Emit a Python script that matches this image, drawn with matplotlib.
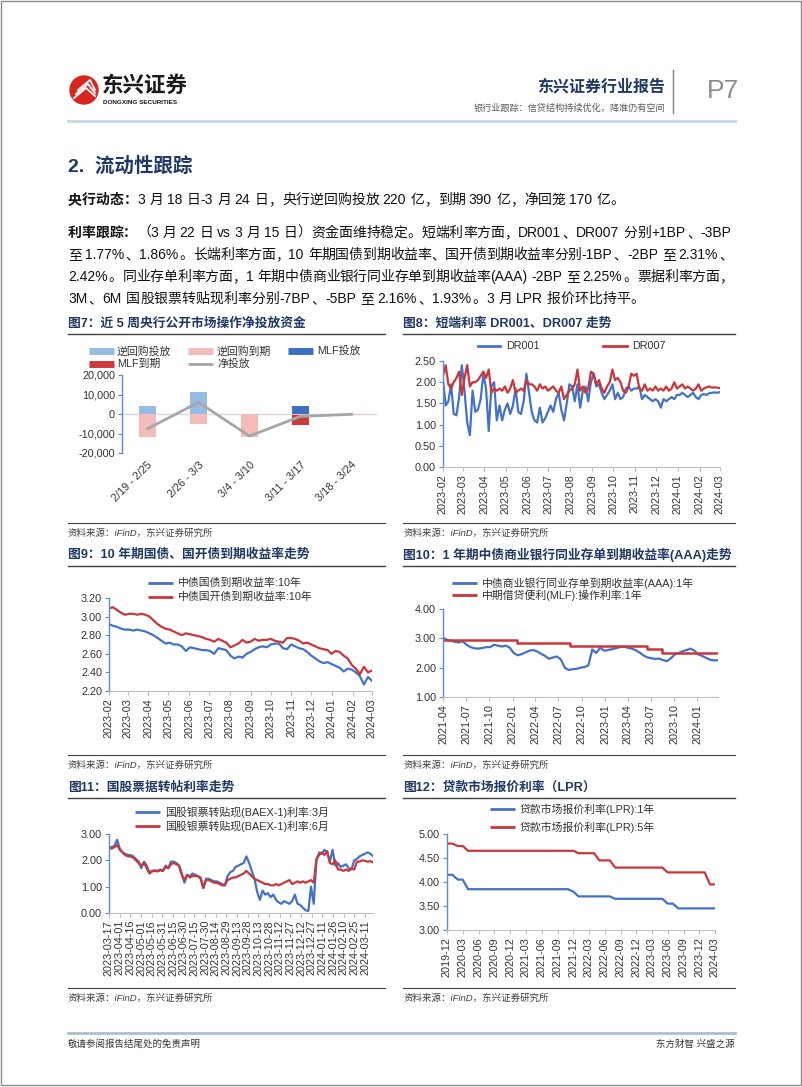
import re
import numpy as np
import pandas as pd
import matplotlib
matplotlib.use('Agg')
import matplotlib.pyplot as plt
from matplotlib.patches import Circle, Rectangle

plt.rcParams['font.family'] = ['Liberation Sans', 'Noto Sans CJK SC', 'DejaVu Sans']
plt.rcParams['axes.unicode_minus'] = False

# ---- data ----
# fig 7: open market operations by week (100 million yuan)
weeks = ['2/19 - 2/25', '2/26 - 3/3', '3/4 - 3/10', '3/11 - 3/17', '3/18 - 3/24']
rr_in = [4300, 11300, 0, 0, 220]
rr_out = [-11900, -5300, -11800, -700, -390]
mlf_in = [0, 0, 0, 3870, 0]
mlf_out = [0, 0, 0, -4810, 0]
net = [-7600, 6000, -11300, -1200, -170]

# fig 8: DR001 / DR007 (2023-02-22 .. 2024-03-22)
dr001 = [2.05, 1.45, 1.55, 1.95, 1.25, 1.22, 1.65, 2.40,
         1.80, 1.05, 0.75, 1.80, 1.30, 1.35, 1.60, 2.20,
         1.85, 0.85, 1.90, 2.00, 1.10, 1.45, 1.10, 1.35,
         1.50, 1.25, 1.45, 1.85, 1.30, 1.25, 1.55, 2.20,
         1.75, 1.30, 1.10, 1.05, 1.40, 1.05, 1.15, 1.30,
         1.45, 1.30, 1.60, 1.75, 1.35, 1.10, 1.50, 1.95,
         1.90, 1.55, 1.95, 1.40, 1.80, 1.90, 1.55, 2.00,
         2.20, 1.90, 1.95, 1.75, 1.60, 1.70, 1.80, 1.95,
         1.60, 1.75, 1.60, 1.65, 1.85, 1.90, 1.80, 1.85,
         1.85, 1.90, 1.60, 1.70, 1.65, 1.60, 1.55, 1.60,
         1.55, 1.40, 1.60, 1.55, 1.60, 1.65, 1.60, 1.70,
         1.70, 1.75, 1.70, 1.65, 1.70, 1.75, 1.65, 1.60,
         1.70, 1.72, 1.70, 1.74, 1.75, 1.76, 1.75, 1.77]
dr007 = [2.15, 2.40, 1.95, 1.85, 2.00, 2.10, 2.25, 1.70,
         2.10, 2.40, 1.90, 2.00, 2.00, 2.05, 2.15, 2.25,
         2.10, 2.30, 1.75, 1.85, 1.80, 1.85, 1.80, 1.90,
         1.75, 1.85, 2.05, 1.75, 1.80, 1.85, 1.80, 2.05,
         1.95, 1.95, 1.90, 1.80, 1.95, 1.85, 1.90, 1.80,
         1.85, 1.90, 1.80, 1.75, 1.90, 1.60, 1.70, 1.80,
         1.85, 1.95, 2.30, 1.80, 1.90, 1.75, 1.85, 2.25,
         2.20, 1.95, 2.05, 1.85, 1.75, 1.90, 2.00, 2.30,
         2.05, 2.10, 2.00, 1.80, 1.75, 1.90, 2.20, 2.15,
         2.20, 1.85, 1.80, 1.95, 1.80, 1.85, 1.80, 1.90,
         1.80, 1.85, 1.80, 1.90, 1.80, 1.85, 2.00, 1.85,
         1.90, 1.95, 1.85, 1.90, 1.85, 1.80, 1.85, 1.95,
         1.80, 1.85, 1.88, 1.90, 1.87, 1.88, 1.87, 1.86]

# fig 9: 10Y CGB / CDB yields
cgb10 = [2.92, 2.90, 2.89, 2.87, 2.86, 2.86, 2.85, 2.86, 2.85, 2.84,
         2.82, 2.80, 2.77, 2.74, 2.71, 2.72, 2.70, 2.70, 2.68, 2.63,
         2.67, 2.66, 2.65, 2.64, 2.64, 2.63, 2.60, 2.66, 2.65, 2.64,
         2.58, 2.55, 2.57, 2.56, 2.60, 2.62, 2.65, 2.67, 2.68, 2.67,
         2.70, 2.71, 2.71, 2.66, 2.65, 2.70, 2.68, 2.66, 2.65, 2.62,
         2.58, 2.55, 2.52, 2.50, 2.51, 2.49, 2.47, 2.45, 2.41, 2.44,
         2.43, 2.40, 2.36, 2.27, 2.35, 2.31]
cdb10 = [3.09, 3.10, 3.07, 3.04, 3.02, 3.03, 3.03, 3.02, 3.03, 3.02,
         3.00, 2.96, 2.92, 2.89, 2.87, 2.86, 2.84, 2.82, 2.80, 2.82,
         2.81, 2.80, 2.79, 2.78, 2.76, 2.75, 2.73, 2.76, 2.74, 2.72,
         2.67, 2.69, 2.71, 2.75, 2.72, 2.73, 2.76, 2.74, 2.75, 2.75,
         2.76, 2.74, 2.73, 2.72, 2.77, 2.77, 2.76, 2.74, 2.71, 2.72,
         2.70, 2.68, 2.66, 2.65, 2.64, 2.60, 2.63, 2.62, 2.58, 2.55,
         2.48, 2.44, 2.38, 2.46, 2.40, 2.42]

# fig 10: 1Y AAA NCD yield and 1Y MLF rate
ncd1y = [3.02, 2.95, 2.92, 2.88, 2.86, 2.90,
         2.78, 2.70, 2.66, 2.65, 2.67, 2.70,
         2.70, 2.78, 2.75, 2.72, 2.75, 2.68,
         2.50, 2.42, 2.46, 2.52, 2.58, 2.60,
         2.55, 2.47, 2.40, 2.30, 2.35, 2.38,
         2.28, 2.00, 1.92, 1.95, 1.96, 2.00,
         2.02, 2.08, 2.62, 2.50, 2.68, 2.58,
         2.60, 2.63, 2.66, 2.70, 2.72, 2.68,
         2.65, 2.60, 2.52, 2.42, 2.35, 2.32,
         2.30, 2.31, 2.26, 2.22, 2.32, 2.45,
         2.50, 2.56, 2.60, 2.65, 2.58, 2.45,
         2.40, 2.33, 2.27, 2.25, 2.25]
mlf_dates = ['2021-04-01', '2022-01-17', '2022-08-15', '2023-06-15', '2023-08-15', '2024-03-22']
mlf_rate = [2.95, 2.85, 2.75, 2.65, 2.50, 2.50]

# fig 11: bill rediscount rates
bill3m = [2.50, 2.50, 2.55, 2.78, 2.45, 2.30, 2.25, 2.20, 2.20, 2.15, 2.05, 1.95,
          1.70, 1.95, 1.80, 1.55, 1.60, 1.62, 1.60, 1.65, 1.60, 1.80, 1.70, 1.95,
          1.95, 1.90, 1.80, 1.50, 1.15, 1.45, 1.40, 1.50, 1.45, 1.40, 1.35, 0.95,
          1.30, 1.30, 1.25, 1.20, 1.20, 1.15, 1.10, 1.05, 1.40, 1.55, 1.60, 1.75,
          1.80, 1.85, 1.90, 2.15, 1.90, 1.60, 1.30, 0.80, 0.50, 0.85, 0.70, 0.75,
          0.60, 0.70, 0.50, 0.40, 0.35, 0.45, 0.40, 0.35, 0.45, 0.70, 0.35, 0.30,
          0.20, 0.10, 0.08, 1.00, 0.35, 2.00, 2.30, 2.25, 2.40, 2.30, 1.95, 2.40,
          1.80, 1.90, 1.75, 1.80, 1.85, 1.70, 1.65, 2.00, 2.05, 2.15, 2.20, 2.25,
          2.30, 2.25, 2.16]
bill6m = [2.45, 2.45, 2.50, 2.58, 2.40, 2.30, 2.20, 2.15, 2.15, 2.10, 2.00, 1.90,
          1.80, 1.90, 1.70, 1.50, 1.58, 1.60, 1.58, 1.62, 1.60, 1.75, 1.70, 1.85,
          1.90, 1.85, 1.80, 1.45, 1.25, 1.45, 1.35, 1.40, 1.40, 1.40, 1.30, 0.95,
          1.25, 1.25, 1.20, 1.15, 1.15, 1.10, 1.05, 1.05, 1.25, 1.30, 1.35, 1.35,
          1.40, 1.45, 1.50, 1.60, 1.50, 1.40, 1.30, 1.25, 1.20, 1.15, 1.10, 1.10,
          1.05, 1.05, 1.10, 1.05, 1.10, 1.15, 1.20, 1.25, 1.10, 1.15, 1.20, 1.15,
          1.20, 1.15, 1.20, 1.25, 1.15, 2.05, 2.20, 2.30, 2.20, 2.35, 1.90, 1.85,
          2.00, 1.65, 1.65, 1.60, 1.65, 1.60, 1.70, 1.65, 1.95, 1.95, 2.00, 1.98,
          1.95, 1.97, 1.93]

# fig 12: LPR monthly 2019-12 .. 2024-03
lpr1y = [4.15, 4.15, 4.05, 4.05, 3.85, 3.85, 3.85, 3.85, 3.85, 3.85, 3.85, 3.85, 3.85,
         3.85, 3.85, 3.85, 3.85, 3.85, 3.85, 3.85, 3.85, 3.85, 3.85, 3.85, 3.80, 3.70,
         3.70, 3.70, 3.70, 3.70, 3.70, 3.70, 3.65, 3.65, 3.65, 3.65, 3.65, 3.65, 3.65,
         3.65, 3.65, 3.65, 3.55, 3.55, 3.45, 3.45, 3.45, 3.45, 3.45, 3.45, 3.45, 3.45]
lpr5y = [4.80, 4.80, 4.75, 4.75, 4.65, 4.65, 4.65, 4.65, 4.65, 4.65, 4.65, 4.65, 4.65,
         4.65, 4.65, 4.65, 4.65, 4.65, 4.65, 4.65, 4.65, 4.65, 4.65, 4.65, 4.65, 4.60,
         4.60, 4.60, 4.60, 4.45, 4.45, 4.45, 4.30, 4.30, 4.30, 4.30, 4.30, 4.30, 4.30,
         4.30, 4.30, 4.30, 4.20, 4.20, 4.20, 4.20, 4.20, 4.20, 4.20, 4.20, 3.95, 3.95]

# ---- style ----
NAVY = '#1F3864'
BLUE = '#4472C4'
RED = '#C9373A'
AXBLUE = '#5B8BD0'
TXT = '#333333'
W, H = 802, 1087

fig = plt.figure(figsize=(W / 100, H / 100), dpi=100)
page = fig.add_axes([0, 0, 1, 1])
page.set_xlim(0, W)
page.set_ylim(H, 0)
page.axis('off')
renderer = fig.canvas.get_renderer()


def text_line(y, parts, x0, x1=None, size=10):
    # place a line token by token; CJK glyphs take a full em, latin runs their measured width
    em = size * 100 / 72
    toks = []
    for s, bold in parts:
        for m in re.finditer(r'[A-Za-z0-9.%+\-()]+|\s|.', s):
            toks.append((m.group(), bold))
    arts, widths = [], []
    for tok, bold in toks:
        t = page.text(0, y, tok, fontsize=size, color='#111111', va='baseline', ha='left',
                      fontweight='bold' if bold else 'normal')
        arts.append(t)
        if tok.isspace():
            widths.append(em * 0.22)
        elif ord(tok[0]) > 0x2000:
            widths.append(em)
        else:
            widths.append(t.get_window_extent(renderer).width + em * 0.1)
    gap = 0 if x1 is None else (x1 - x0 - sum(widths)) / (len(arts) - 1)
    x = x0
    for a, w in zip(arts, widths):
        a.set_x(x)
        x += w + gap


def px_axes(l, t, r, b):
    ax = fig.add_axes([l / W, 1 - b / H, (r - l) / W, (b - t) / H])
    for s in ('top', 'right'):
        ax.spines[s].set_visible(False)
    ax.spines['left'].set_color(AXBLUE)
    ax.spines['left'].set_linewidth(1.0)
    ax.spines['bottom'].set_color('#BFBFBF')
    ax.spines['bottom'].set_linewidth(0.8)
    ax.tick_params(axis='y', length=3, color=AXBLUE, labelsize=7.8, labelcolor=TXT, pad=2)
    ax.tick_params(axis='x', length=3, color='#BFBFBF', labelsize=7.8, labelcolor=TXT, pad=2)
    ax.patch.set_alpha(0)
    return ax


def date_axis(ax, start, end, ticks, fmt):
    ax.set_xlim(pd.Timestamp(start), pd.Timestamp(end))
    ax.set_xticks(list(ticks))
    ax.set_xticklabels([t.strftime(fmt) for t in ticks], rotation=90)


def y_axis(ax, lo, hi, step, fmt='{:.2f}'):
    ax.set_ylim(lo, hi)
    ticks = np.arange(lo, hi + step / 2, step)
    ax.set_yticks(ticks)
    ax.set_yticklabels([fmt.format(v) for v in ticks])


def legend_rows(x_line, x_text, rows):
    for y, color, label, lw in rows:
        page.plot([x_line, x_line + 25], [y, y], color=color, lw=lw, solid_capstyle='butt')
        page.text(x_text, y, label, fontsize=7.8, color=TXT, va='center', ha='left')


def frame(x0, x1, y_title, y_top, y_bot, title):
    page.text(x0, y_title, title, fontsize=9.2, fontweight='bold', color=NAVY, va='center')
    page.plot([x0, x1], [y_top, y_top], color='#404040', lw=1)
    page.plot([x0, x1], [y_bot, y_bot], color='#404040', lw=0.8)
    page.text(x0, y_bot + 10, '资料来源：iFinD，东兴证券研究所', fontsize=6.8,
              color='#404040', va='center', style='italic')


# ---- page furniture ----
page.add_patch(Rectangle((1, 1), W - 2, H - 3, fill=False, ec='#8C8C8C', lw=1))
page.add_patch(Circle((84, 90), 14, color='#D7261E'))
for k in range(3):
    page.plot([74 + 2 * k, 86 + 2 * k, 95], [98 - 4 * k, 88 - 4 * k, 96 - 3 * k],
              color='white', lw=1.3)
page.text(102, 86, '东兴证券', fontsize=15.5, fontweight='heavy', color='#1A1A1A', va='center')
page.text(103, 102, 'DONGXING SECURITIES', fontsize=4.6, fontweight='bold', color='#1A1A1A', va='center')
page.text(665, 87, '东兴证券行业报告', fontsize=11.5, fontweight='bold', color=NAVY, va='center', ha='right')
page.text(665, 108, '银行业跟踪：信贷结构持续优化，降准仍有空间', fontsize=6.6, color='#595959',
          va='center', ha='right')
page.plot([673, 673], [70, 113], color='#7F7F7F', lw=1)
page.text(707, 91, 'P7', fontsize=19, color='#8C8C8C', va='center', ha='left')
page.plot([68, 735], [121, 121], color='#C6D6EA', lw=2)

page.text(68, 166, '2.  流动性跟踪', fontsize=14, fontweight='bold', color=NAVY, va='center')
text_line(204, [('央行动态：', True),
                ('3 月 18 日-3 月 24 日，央行逆回购投放 220 亿，到期 390 亿，净回笼 170 亿。', False)], 68)
text_line(237, [('利率跟踪：', True),
                ('（3 月 22 日 vs 3 月 15 日）资金面维持稳定。短端利率方面，DR001、DR007 分别+1BP、-3BP', False)],
          68, 733)
text_line(259, [('至 1.77%、1.86%。长端利率方面，10 年期国债到期收益率、国开债到期收益率分别-1BP、-2BP 至 2.31%、', False)],
          68, 733)
text_line(281, [('2.42%。同业存单利率方面，1 年期中债商业银行同业存单到期收益率(AAA) -2BP 至 2.25%。票据利率方面，', False)],
          68, 733)
text_line(303, [('3M、6M 国股银票转贴现利率分别-7BP、-5BP 至 2.16%、1.93%。3 月 LPR 报价环比持平。', False)], 68)

page.plot([68, 735], [1033, 1033], color='#ADBFD3', lw=2)
page.text(68, 1044, '敬请参阅报告结尾处的免责声明', fontsize=6.8, color='#333333', va='center')
page.text(735, 1044, '东方财智 兴盛之源', fontsize=6.8, color='#333333', va='center', ha='right')

# ---- fig 7 ----
frame(68, 385, 324, 334, 523, '图7：近 5 周央行公开市场操作净投放资金')
ax = px_axes(122, 375, 377, 453)
x = np.arange(len(weeks))
bw = 0.33
ax.bar(x, rr_in, bw, color='#97BCE4', zorder=2)
ax.bar(x, mlf_in, bw, bottom=rr_in, color='#3F6FBF', zorder=2)
ax.bar(x, rr_out, bw, color='#F4BBBB', zorder=2)
ax.bar(x, mlf_out, bw, bottom=rr_out, color='#CC3B3B', zorder=2)
ax.plot(x, net, color='#A6A6A6', lw=2, zorder=3)
ax.axhline(0, color='#D9D9D9', lw=1, zorder=1)
ax.set_xlim(-0.5, len(weeks) - 0.5)
y_axis(ax, -20000, 20000, 10000, '{:,.0f}')
ax.spines['bottom'].set_visible(False)
ax.set_xticks(x)
ax.set_xticklabels(weeks, rotation=45, ha='right', va='top', rotation_mode='anchor')
ax.tick_params(axis='x', length=0, pad=5)
legend_rows(89, 117, [(351, '#97BCE4', '逆回购投放', 5), (364, '#CC3B3B', 'MLF到期', 5)])
legend_rows(188, 217, [(351, '#F4BBBB', '逆回购到期', 5), (364, '#A6A6A6', '净投放', 2)])
legend_rows(288, 317, [(351, '#3F6FBF', 'MLF投放', 5)])

# ---- fig 8 ----
frame(403, 735, 324, 334, 523, '图8：短端利率 DR001、DR007 走势')
ax = px_axes(443, 361, 720, 467)
d = pd.date_range('2023-02-22', '2024-03-22', periods=len(dr001))
ax.plot(d, dr001, color=BLUE, lw=1.6)
ax.plot(d, dr007, color=RED, lw=1.6)
date_axis(ax, '2023-02-22', '2024-03-22',
          [pd.Timestamp('2023-02-22') + pd.DateOffset(months=i) for i in range(14)], '%Y-%m')
y_axis(ax, 0, 2.5, 0.5)
page.plot([478, 500], [346, 346], color=BLUE, lw=2)
page.text(506, 346, 'DR001', fontsize=7.8, color=TXT, va='center')
page.plot([603, 627], [346, 346], color=RED, lw=2)
page.text(632, 346, 'DR007', fontsize=7.8, color=TXT, va='center')

# ---- fig 9 ----
frame(68, 385, 555, 566, 755, '图9：10 年期国债、国开债到期收益率走势')
ax = px_axes(109, 598, 372, 691)
d = pd.date_range('2023-02-22', '2024-03-22', periods=len(cgb10))
ax.plot(d, cgb10, color=BLUE, lw=1.6)
ax.plot(d, cdb10, color=RED, lw=1.6)
date_axis(ax, '2023-02-22', '2024-03-22',
          [pd.Timestamp('2023-02-22') + pd.DateOffset(months=i) for i in range(14)], '%Y-%m')
y_axis(ax, 2.2, 3.2, 0.2)
legend_rows(148, 178, [(583, BLUE, '中债国债到期收益率:10年', 2), (597, RED, '中债国开债到期收益率:10年', 2)])

# ---- fig 10 ----
frame(403, 735, 555, 566, 755, '图10：1 年期中债商业银行同业存单到期收益率(AAA)走势')
ax = px_axes(443, 609, 718, 697)
d = pd.date_range('2021-04-01', '2024-03-22', periods=len(ncd1y))
ax.plot(d, ncd1y, color=BLUE, lw=1.6)
ax.step(pd.to_datetime(mlf_dates), mlf_rate, where='post', color=RED, lw=1.8)
date_axis(ax, '2021-04-01', '2024-03-22',
          [pd.Timestamp('2021-04-01') + pd.DateOffset(months=3 * i) for i in range(12)], '%Y-%m')
y_axis(ax, 1.0, 4.0, 1.0)
legend_rows(452, 482, [(583, BLUE, '中债商业银行同业存单到期收益率(AAA):1年', 2),
                       (595, RED, '中期借贷便利(MLF):操作利率:1年', 2)])

# ---- fig 11 ----
frame(68, 385, 788, 798, 988, '图11：国股票据转帖利率走势')
ax = px_axes(109, 834, 373, 913)
d = pd.date_range('2023-03-17', '2024-03-22', periods=len(bill3m))
ax.plot(d, bill3m, color=BLUE, lw=1.6)
d = pd.date_range('2023-03-17', '2024-03-22', periods=len(bill6m))
ax.plot(d, bill6m, color=RED, lw=1.6)
date_axis(ax, '2023-03-17', '2024-03-22', pd.date_range('2023-03-17', periods=25, freq='15D'), '%Y-%m-%d')
y_axis(ax, 0, 3, 1.0)
legend_rows(135, 165, [(812, BLUE, '国股银票转贴现(BAEX-1)利率:3月', 2),
                       (826, RED, '国股银票转贴现(BAEX-1)利率:6月', 2)])

# ---- fig 12 ----
frame(403, 735, 788, 798, 988, '图12：贷款市场报价利率（LPR）')
ax = px_axes(447, 834, 715, 930)
d = [pd.Timestamp('2019-12-20') + pd.DateOffset(months=i) for i in range(len(lpr1y))]
ax.plot(d, lpr1y, color=BLUE, lw=1.6)
ax.plot(d, lpr5y, color=RED, lw=1.6)
date_axis(ax, '2019-12-20', '2024-03-20',
          [pd.Timestamp('2019-12-20') + pd.DateOffset(months=3 * i) for i in range(18)], '%Y-%m')
y_axis(ax, 3.0, 5.0, 0.5)
legend_rows(490, 520, [(809, BLUE, '贷款市场报价利率(LPR):1年', 2),
                       (827, RED, '贷款市场报价利率(LPR):5年', 2)])

fig.savefig('out.png', dpi=100)
